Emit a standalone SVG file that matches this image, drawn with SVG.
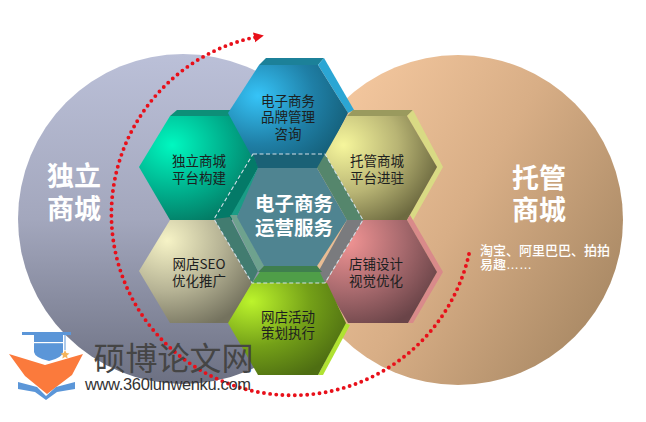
<svg xmlns="http://www.w3.org/2000/svg" width="646" height="422" viewBox="0 0 646 422">
<style>
text{font-family:"Noto Sans CJK SC","Noto Sans",sans-serif;text-anchor:middle}
.n{font-size:13.5px;fill:#1c2020}
.b{font-size:27px;font-weight:700;fill:#fff}
.c{font-size:19.5px;font-weight:700;fill:#fff}
.s{font-size:13px;font-weight:500;fill:#fff;text-anchor:start}
.dash{fill:none;stroke:#d3dfe8;stroke-width:1.1;stroke-dasharray:4 2.5}
</style>
<defs>
<linearGradient id="gl" x1="0" y1="0" x2="0" y2="1"><stop offset="0" stop-color="#bbc0d8"/><stop offset=".5" stop-color="#a3a7bd"/><stop offset="1" stop-color="#6c7082"/></linearGradient>
<linearGradient id="gr" x1="0" y1="0.2" x2="1" y2="0.8"><stop offset="0" stop-color="#f8cba2"/><stop offset=".5" stop-color="#d8ae86"/><stop offset="1" stop-color="#a58662"/></linearGradient>
<radialGradient id="blue" cx=".25" cy=".3" r=".85"><stop offset="0" stop-color="#36c4f8"/><stop offset=".55" stop-color="#1f7fa6"/><stop offset="1" stop-color="#135a72"/></radialGradient>
<radialGradient id="green" cx=".28" cy=".28" r=".85"><stop offset="0" stop-color="#00f8c0"/><stop offset=".55" stop-color="#00ad8b"/><stop offset="1" stop-color="#04705c"/></radialGradient>
<radialGradient id="olive" cx=".2" cy=".28" r=".85"><stop offset="0" stop-color="#f6f69c"/><stop offset=".55" stop-color="#b8b474"/><stop offset="1" stop-color="#6d6a40"/></radialGradient>
<radialGradient id="pink" cx=".2" cy=".2" r=".9"><stop offset="0" stop-color="#f29494"/><stop offset=".55" stop-color="#a86a6e"/><stop offset="1" stop-color="#6a4448"/></radialGradient>
<radialGradient id="beige" cx=".25" cy=".2" r=".9"><stop offset="0" stop-color="#f6f3c6"/><stop offset=".55" stop-color="#b5b294"/><stop offset="1" stop-color="#74725e"/></radialGradient>
<radialGradient id="lime" cx=".2" cy=".2" r=".9"><stop offset="0" stop-color="#bcf42c"/><stop offset=".55" stop-color="#74a018"/><stop offset="1" stop-color="#4e6e12"/></radialGradient>
<marker id="arrow" markerUnits="userSpaceOnUse" markerWidth="12" markerHeight="12" refX="2" refY="6" orient="auto"><path d="M0,1 L10,6 L0,11 Z" fill="#e8101a"/></marker>
</defs>

<g id="circle-left"><circle cx="183" cy="219" r="165" fill="url(#gl)"/><text class="b" x="74" y="186">独立</text><text class="b" x="74" y="219">商城</text></g>
<g id="circle-right"><circle cx="458" cy="220" r="165" fill="url(#gr)"/><text class="b" x="539" y="188">托管</text><text class="b" x="539" y="220">商城</text><text class="s" x="480" y="255">淘宝、阿里巴巴、拍拍</text><text class="s" x="480" y="269">易趣<tspan style="font-family:'Liberation Sans',sans-serif">……</tspan></text></g>

<g id="connectors"><path d="M469,254 A181,181 0 1 1 256,37" fill="none" stroke="#e8101a" stroke-width="3.9" stroke-linecap="round" stroke-dasharray="0 6.2" marker-end="url(#arrow)"/></g>

<g id="hex-green"><polygon points="170,116 177,110 232,110 236,116" fill="#0d8f78"/><polygon points="139,167 170,116 232,116 258,167 232,220 170,220" fill="url(#green)"/><text class="n" x="199" y="166">独立商城</text><text class="n" x="199" y="183">平台构建</text></g>

<g id="hex-blue"><polygon points="259,65 266,58 324,58 318,65" fill="#1c8199"/><polygon points="318,65 324,58 354,110 348,113" fill="#2ba6d4"/><polygon points="228,113 259,65 318,65 348,113 320,168 258,168" fill="url(#blue)"/><text class="n" x="288" y="106">电子商务</text><text class="n" x="288" y="122">品牌管理</text><text class="n" x="288" y="139">咨询</text></g>

<g id="hex-olive"><polygon points="347,116 353,110 413,110 407,116" fill="#9a9a5e"/><polygon points="407,116 413,110 443,167 412,222 407,220 437,167" fill="#d9da84"/><polygon points="326,153 347,116 407,116 437,167 407,220 347,220 320,167" fill="url(#olive)"/><text class="n" x="377" y="166">托管商城</text><text class="n" x="377" y="183">平台进驻</text></g>

<g id="hex-beige"><polygon points="139,271 170,220 215,220 252,283 230,323 170,323" fill="url(#beige)"/><text class="n" x="199" y="269">网店SEO</text><text class="n" x="199" y="286">优化推广</text></g>

<g id="hex-pink"><polygon points="407,220 410,215 443,272 413,323 408,323 437,272" fill="#d98a8a"/><polygon points="363,220 407,220 437,272 408,323 348,323 325,284" fill="url(#pink)"/><text class="n" x="376" y="269">店铺设计</text><text class="n" x="376" y="286">视觉优化</text></g>

<g id="hex-lime"><polygon points="345,323 350,325 323,375 318,375" fill="#b0e232"/><polygon points="252,283 327,283 346,323 318,375 258,375 228,323" fill="url(#lime)"/><text class="n" x="288" y="322">网店活动</text><text class="n" x="288" y="338">策划执行</text></g>

<g id="hex-center">
<polygon points="253,154 325,154 317,168 258,168" fill="#1a6176"/>
<polygon points="214,219 253,154 258,168 230,217" fill="#047a68"/>
<polygon points="230,217 258,168 262,168 237,217" fill="#1a9c86"/>
<polygon points="325,154 363,220 347,220 317,168" fill="#55866c"/>
<polygon points="363,220 325,283 317,274 347,220" fill="#7a7b7e"/>
<polygon points="214,219 252,283 258,271 230,217" fill="#427c70"/>
<polygon points="230,215 237,215 264,266 258,271" fill="#6ea28e"/>
<polygon points="252,283 325,283 317,266 264,266" fill="#4f9e48"/>
<polygon points="264,266 317,266 322,272 258,272" fill="#3f7f4e"/>
<polygon points="258,168 317,168 347,220 317,266 264,266 237,217" fill="#4f8491"/>
<polygon class="dash" points="253,154 325,154 363,220 325,283 252,283 214,219"/>
<text class="c" x="294" y="211">电子商务</text><text class="c" x="294" y="235">运营服务</text>
</g>

<g id="logo">
<rect x="22" y="332" width="49" height="3" fill="#5b96d8"/>
<path d="M34,335 H63 V352 Q62,358 49,361 Q35,358 34,352 Z" fill="#5b96d8"/>
<rect x="34" y="342" width="29" height="1.2" fill="#fff"/>
<rect x="64.5" y="335" width="1" height="15" fill="#5b96d8"/>
<polygon points="65,350 66.4,353 69.5,353.5 67,355.5 67.7,358.5 65,357 62.3,358.5 63,355.5 60.5,353.5 63.6,353" fill="#f4b45c"/>
<polygon points="9,354 45,365 83,354 72,375 47,394 25,376" fill="#fb7a3c"/>
<polygon points="18,382 37,387 46,396 56,387 75,382 75,389 57,392 46,400 35,392 18,389" fill="#5b96d8"/>
</g>
<text x="173.5" y="370" font-size="32" fill="#454545">硕博论文网</text>
<text x="168" y="390" font-size="16.5" fill="#333" style="font-family:'Liberation Sans',sans-serif" textLength="166" lengthAdjust="spacing">www.360lunwenku.com</text>
</svg>
